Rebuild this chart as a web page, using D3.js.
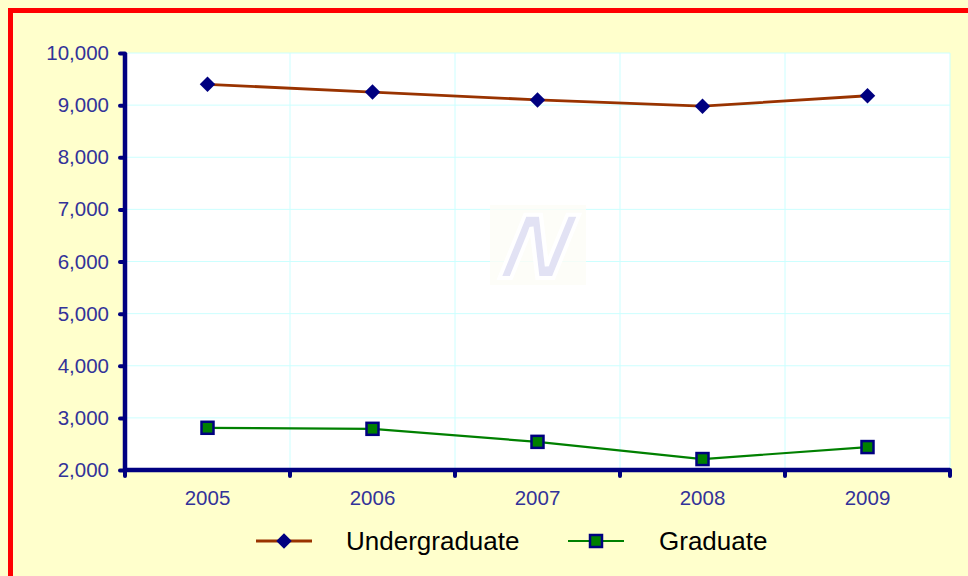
<!DOCTYPE html>
<html>
<head>
<meta charset="utf-8">
<script src="https://cdn.jsdelivr.net/npm/d3@7"></script>
<style>
  body { margin: 0; background: #ffffcc; }
  svg { display: block; font-family: Arial, "Liberation Sans", sans-serif; }
</style>
</head>
<body>
<svg width="968" height="576"></svg>
<script>
// values
var years = ["2005", "2006", "2007", "2008", "2009"];
var undergrad = [9400, 9250, 9100, 8980, 9180];
var graduate = [2810, 2790, 2540, 2210, 2440];
var yTicks = [2000, 3000, 4000, 5000, 6000, 7000, 8000, 9000, 10000];

var svg = d3.select("svg");
var plotL = 125, plotT = 53, plotR = 950, plotB = 470;

// red frame round the whole chart
svg.append("rect").attr("x", 0).attr("y", 0).attr("width", 968).attr("height", 576).attr("fill", "#ffffcc");
svg.append("rect")
  .attr("x", 10.5).attr("y", 10.5).attr("width", 970).attr("height", 580)
  .attr("fill", "none").attr("stroke", "#ff0000").attr("stroke-width", 5);

var x = d3.scaleBand().domain(years).range([plotL, plotR]);
var y = d3.scaleLinear().domain([2000, 10000]).range([plotB, plotT]);

// plot area
svg.append("rect").attr("x", plotL).attr("y", plotT).attr("width", plotR - plotL).attr("height", plotB - plotT).attr("fill", "#ffffff");

// gridlines
svg.append("g").selectAll("line").data(yTicks.slice(1))
  .enter().append("line")
  .attr("x1", plotL).attr("x2", plotR)
  .attr("y1", function (d) { return y(d); }).attr("y2", function (d) { return y(d); })
  .attr("stroke", "#ccffff").attr("stroke-width", 1);
var bounds = years.map(function (d) { return x(d) + x.bandwidth(); });
svg.append("g").selectAll("line").data(bounds)
  .enter().append("line")
  .attr("x1", function (d) { return d; }).attr("x2", function (d) { return d; })
  .attr("y1", plotT).attr("y2", plotB)
  .attr("stroke", "#ccffff").attr("stroke-width", 1);

// watermark logo
var wm = svg.append("g").attr("transform", "translate(538,245)");
wm.append("rect").attr("x", -48).attr("y", -40).attr("width", 96).attr("height", 80).attr("fill", "#fdfdf6").attr("opacity", 0.8);
wm.append("text")
  .attr("text-anchor", "middle").attr("dy", "0.36em")
  .attr("font-size", 92).attr("font-weight", "bold").attr("font-style", "italic")
  .attr("transform", "skewX(-12)")
  .attr("fill", "#e2e2f4").attr("stroke", "#ffffff").attr("stroke-width", 4)
  .text("N");

// axes
var yAxis = d3.axisLeft(y).tickValues(yTicks).tickSize(5).tickPadding(11).tickFormat(d3.format(","));
var gy = svg.append("g").attr("transform", "translate(" + plotL + ",0)").call(yAxis);
var xAxis = d3.axisBottom(x).tickSize(0).tickPadding(20);
var gx = svg.append("g").attr("transform", "translate(0," + plotB + ")").call(xAxis);

[gy, gx].forEach(function (g) {
  g.attr("font-size", 20.5).attr("font-family", "Arial, 'Liberation Sans', sans-serif");
  g.select(".domain").attr("stroke", "#000080").attr("stroke-width", 4.5);
  g.selectAll(".tick line").attr("stroke", "#000080").attr("stroke-width", 4).attr("stroke-linecap", "round");
  g.selectAll("text").attr("fill", "#333399");
});
gy.select(".domain").attr("d", "M0," + plotB + "V" + plotT);
gx.select(".domain").attr("d", "M" + plotL + ",0H" + plotR);

// x ticks at category boundaries
gx.append("g").selectAll("line").data([plotL].concat(bounds))
  .enter().append("line")
  .attr("x1", function (d) { return d; }).attr("x2", function (d) { return d; })
  .attr("y1", 0).attr("y2", 6)
  .attr("stroke", "#000080").attr("stroke-width", 4).attr("stroke-linecap", "round");

var cx = function (d, i) { return x(years[i]) + x.bandwidth() / 2; };
var line = d3.line().x(cx).y(function (d) { return y(d); });

svg.append("path").datum(undergrad).attr("d", line)
  .attr("fill", "none").attr("stroke", "#993300").attr("stroke-width", 2.8);
svg.append("path").datum(graduate).attr("d", line)
  .attr("fill", "none").attr("stroke", "#008000").attr("stroke-width", 2.2);

var diamond = d3.symbol().type(d3.symbolSquare).size(120);
svg.append("g").selectAll("path").data(undergrad)
  .enter().append("path")
  .attr("d", diamond)
  .attr("transform", function (d, i) { return "translate(" + cx(d, i) + "," + y(d) + ") rotate(45)"; })
  .attr("fill", "#000080");

svg.append("g").selectAll("rect").data(graduate)
  .enter().append("rect")
  .attr("x", function (d, i) { return cx(d, i) - 6; })
  .attr("y", function (d) { return y(d) - 6; })
  .attr("width", 12).attr("height", 12)
  .attr("fill", "#008000").attr("stroke", "#000080").attr("stroke-width", 2.5);

// legend
var legend = svg.append("g").attr("transform", "translate(0,541)");
legend.append("line").attr("x1", 256).attr("x2", 312).attr("stroke", "#993300").attr("stroke-width", 2.8);
legend.append("path").attr("d", diamond).attr("transform", "translate(284,0) rotate(45)").attr("fill", "#000080");
legend.append("text").attr("x", 346).attr("dy", "0.36em").attr("font-size", 26).attr("fill", "#000000").text("Undergraduate");
legend.append("line").attr("x1", 568).attr("x2", 624).attr("stroke", "#008000").attr("stroke-width", 2.2);
legend.append("rect").attr("x", 590).attr("y", -6).attr("width", 12).attr("height", 12)
  .attr("fill", "#008000").attr("stroke", "#000080").attr("stroke-width", 2.5);
legend.append("text").attr("x", 659).attr("dy", "0.36em").attr("font-size", 26).attr("fill", "#000000").text("Graduate");
</script>
</body>
</html>
